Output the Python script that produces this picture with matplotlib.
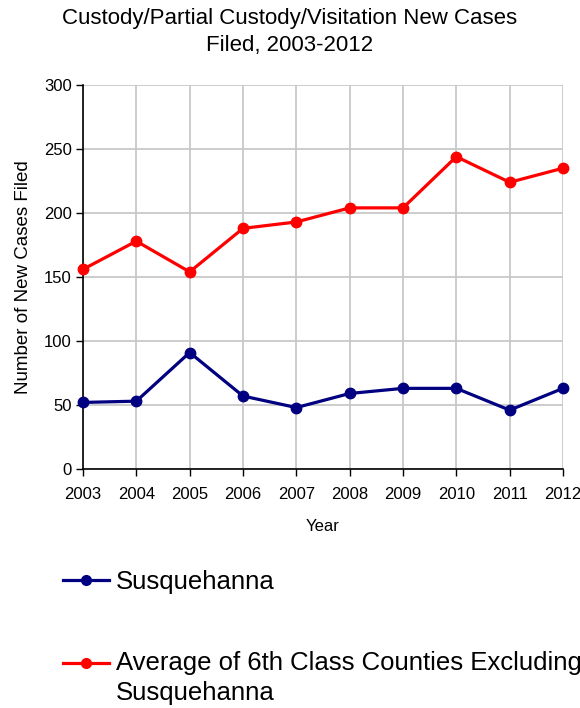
import matplotlib
matplotlib.use("Agg")
import matplotlib.pyplot as plt
from matplotlib.transforms import Affine2D

years = [2003, 2004, 2005, 2006, 2007, 2008, 2009, 2010, 2011, 2012]
susquehanna = [52, 53, 91, 57, 48, 59, 63, 63, 46, 63]
avg_6th_class = [156, 178, 154, 188, 193, 204, 204, 244, 224, 235]
y_ticks = [0, 50, 100, 150, 200, 250, 300]

title = "Custody/Partial Custody/Visitation New Cases\nFiled, 2003-2012"
series_labels = ["Susquehanna", "Average of 6th Class Counties Excluding\nSusquehanna"]

plt.rcParams['font.family'] = ['Liberation Sans', 'DejaVu Sans']

W, H = 580, 708
fig = plt.figure(figsize=(W / 100, H / 100), dpi=100)
ax = fig.add_axes([83 / W, 1 - 469 / H, (563 - 83) / W, (469 - 85) / H])

l1, = ax.plot(years, susquehanna, color='#000080', lw=2.3, marker='o', ms=7.5,
              clip_on=False, zorder=3, label=series_labels[0])
l2, = ax.plot(years, avg_6th_class, color='#ff0000', lw=2.3, marker='o', ms=7.5,
              clip_on=False, zorder=3, label=series_labels[1])

ax.set_xlim(years[0], years[-1])
ax.set_ylim(0, 300)
ax.set_xticks(years)
ax.set_xticklabels([str(y) for y in years])
ax.set_yticks(y_ticks)
ax.grid(True, color='#c8c8c8', lw=1.3)
ax.set_axisbelow(True)
for s in ['top', 'right']:
    ax.spines[s].set_visible(False)
for s in ['left', 'bottom']:
    ax.spines[s].set_color('black')
    ax.spines[s].set_linewidth(1.2)
ax.tick_params(axis='both', direction='out', length=5, width=1, labelsize=12, colors='black')
ax.tick_params(axis='x', pad=8)
ax.tick_params(axis='y', pad=3)
ax.set_xlabel("Year", fontsize=12, labelpad=12)
ax.set_ylabel("Number of New Cases Filed", fontsize=13.5, labelpad=9)

fig.text(0.5, 1 - 32 / H, title, ha='center', va='center', fontsize=16, linespacing=1.4)

leg = fig.legend(handles=[l1, l2], loc='upper left',
                 bbox_to_anchor=(63 / W, 1 - 570 / H), frameon=False, fontsize=18.5,
                 borderpad=0, borderaxespad=0, handlelength=1.8, handletextpad=0.25,
                 labelspacing=2.2)
for t in leg.get_texts():
    t.set_linespacing(1.35)
for h in leg.legend_handles:
    h.set_markersize(7)
    h.set_linewidth(2.3)

# align the handle of the two-line entry with its first text line
fig.canvas.draw()
renderer = fig.canvas.get_renderer()
t1, t2 = leg.get_texts()
h2 = leg.legend_handles[1]
bb1 = t1.get_window_extent(renderer)
bb2 = t2.get_window_extent(renderer)
hb = h2.get_window_extent(renderer)
target = bb2.y1 - bb1.height / 2
dy = target - (hb.y0 + hb.y1) / 2
h2.set_transform(h2.get_transform() + Affine2D().translate(0, dy))

fig.savefig("out.png", dpi=100)
